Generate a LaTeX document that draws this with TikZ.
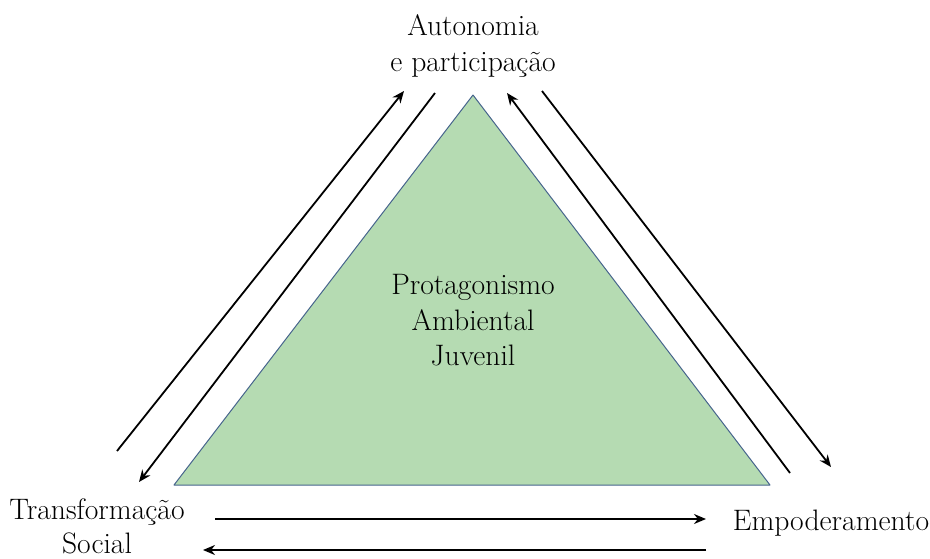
\documentclass[tikz,border=0pt]{standalone}
\usetikzlibrary{arrows.meta}
\definecolor{trifill}{RGB}{181,219,178}
\definecolor{triedge}{RGB}{70,100,140}
\tikzset{
  lbl/.style={font=\fontsize{29.6}{35.5}\selectfont, align=center, inner sep=0pt},
  conn/.style={line width=1.8pt, -{Stealth[length=12pt,width=10pt]}},
}
\begin{document}
\begin{tikzpicture}[x=1pt,y=-1pt]
\useasboundingbox (0,0) rectangle (930,558);
% triangle
\coordinate (apex) at (473,95);
\coordinate (bl) at (174,485);
\coordinate (br) at (770,485);
\fill[trifill] (apex) -- (bl) -- (br) -- cycle;
\draw[triedge, line width=1pt, line join=round] (apex) -- (bl) -- (br) -- cycle;
% labels
\node[lbl, anchor=base] (top1) at (473,35) {Autonomia};
\node[lbl, anchor=base] (top2) at (473,71) {e participação};
\node[lbl, anchor=base] (left1) at (97,519) {Transformação};
\node[lbl, anchor=base] (left2) at (97,553) {Social};
\node[lbl, anchor=base] (right) at (831,530) {Empoderamento};
\node[lbl, anchor=base] (c1) at (473,294) {Protagonismo};
\node[lbl, anchor=base] (c2) at (473,330) {Ambiental};
\node[lbl, anchor=base] (c3) at (473,365) {Juvenil};
% connector ends
\coordinate (a1s) at (117,451);
\coordinate (a1e) at (404,91);
\coordinate (a2s) at (435,93);
\coordinate (a2e) at (139,482);
\coordinate (a3s) at (790,473);
\coordinate (a3e) at (507,93);
\coordinate (a4s) at (542,91);
\coordinate (a4e) at (831,467);
\coordinate (a5s) at (215,519);
\coordinate (a5e) at (706,519);
\coordinate (a6s) at (706,550);
\coordinate (a6e) at (203,550);
\draw[conn] (a1s) -- (a1e);
\draw[conn] (a2s) -- (a2e);
\draw[conn] (a3s) -- (a3e);
\draw[conn] (a4s) -- (a4e);
\draw[conn] (a5s) -- (a5e);
\draw[conn] (a6s) -- (a6e);
\end{tikzpicture}
\end{document}
